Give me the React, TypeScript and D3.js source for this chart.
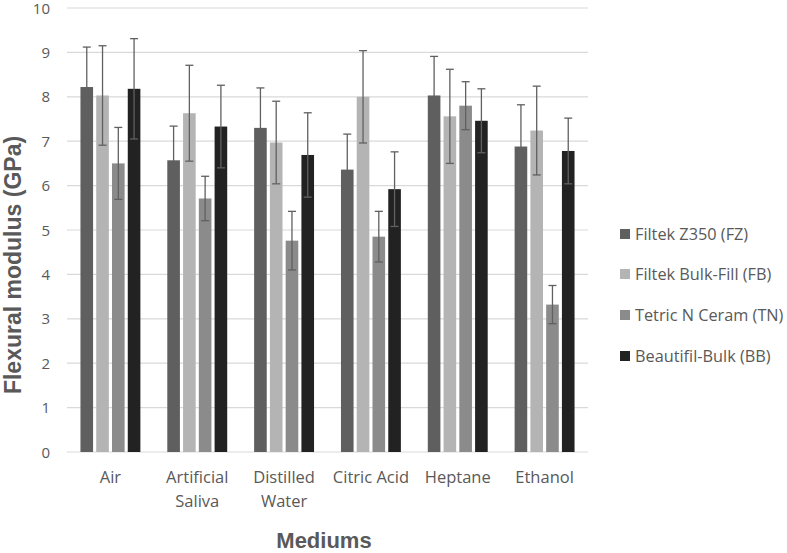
import React, { useRef, useEffect } from 'react';
import * as d3 from 'd3';

const categories = ['Air', 'Artificial Saliva', 'Distilled Water', 'Citric Acid', 'Heptane', 'Ethanol'];
const seriesNames = ['Filtek Z350 (FZ)', 'Filtek Bulk-Fill (FB)', 'Tetric N Ceram (TN)', 'Beautifil-Bulk (BB)'];
const seriesColors = ['#5f5f5f', '#b4b4b4', '#8b8b8b', '#222222'];

// mean values per series, in category order
const fzValues = [8.22, 6.57, 7.30, 6.36, 8.03, 6.88];
const fbValues = [8.03, 7.63, 6.97, 8.00, 7.56, 7.24];
const tnValues = [6.50, 5.71, 4.76, 4.85, 7.80, 3.32];
const bbValues = [8.18, 7.33, 6.69, 5.92, 7.46, 6.78];

// standard deviations
const fzErrors = [0.90, 0.77, 0.90, 0.80, 0.88, 0.94];
const fbErrors = [1.12, 1.08, 0.93, 1.04, 1.06, 1.00];
const tnErrors = [0.81, 0.50, 0.66, 0.57, 0.54, 0.43];
const bbErrors = [1.13, 0.93, 0.95, 0.84, 0.72, 0.74];

const yTicks = [0, 1, 2, 3, 4, 5, 6, 7, 8, 9, 10];

const App: React.FC = () => {
  const svgRef = useRef<SVGSVGElement>(null);
  const width = 787;
  const height = 553;

  useEffect(() => {
    if (!svgRef.current) return;
    const svg = d3.select(svgRef.current);
    svg.selectAll('*').remove();

    const left = 67, right = 588, top = 8, bottom = 452;
    const font = 'Open Sans, sans-serif';
    const boldFont = 'Liberation Sans, Arial, sans-serif';

    const values = [fzValues, fbValues, tnValues, bbValues];
    const errors = [fzErrors, fbErrors, tnErrors, bbErrors];

    const x0 = d3.scaleBand<string>()
      .domain(categories)
      .range([left, right])
      .paddingInner(0.31)
      .paddingOuter(0.155);

    const x1 = d3.scaleBand<string>()
      .domain(seriesNames)
      .range([0, x0.bandwidth()])
      .paddingInner(0.2);

    const y = d3.scaleLinear().domain([0, 10]).range([bottom, top]);

    // Grid lines + y tick labels
    yTicks.forEach(t => {
      svg.append('line')
        .attr('x1', left)
        .attr('x2', right)
        .attr('y1', y(t))
        .attr('y2', y(t))
        .attr('stroke', '#d9d9d9')
        .attr('stroke-width', 1.2);
      svg.append('text')
        .attr('x', 50)
        .attr('y', y(t) + 5.5)
        .attr('text-anchor', 'end')
        .attr('font-family', font)
        .attr('font-size', '15px')
        .attr('fill', '#595959')
        .text(t);
    });

    // Bars
    seriesNames.forEach((name, si) => {
      categories.forEach((cat, ci) => {
        const v = values[si][ci];
        const bx = (x0(cat) ?? 0) + (x1(name) ?? 0);
        svg.append('rect')
          .attr('x', bx)
          .attr('y', y(v))
          .attr('width', x1.bandwidth())
          .attr('height', y(0) - y(v))
          .attr('fill', seriesColors[si]);
      });
    });

    // Error bars
    seriesNames.forEach((name, si) => {
      categories.forEach((cat, ci) => {
        const v = values[si][ci];
        const e = errors[si][ci];
        const cx = (x0(cat) ?? 0) + (x1(name) ?? 0) + x1.bandwidth() / 2;
        const g = svg.append('g')
          .attr('stroke', '#606060')
          .attr('stroke-width', 1.3);
        g.append('line')
          .attr('x1', cx).attr('x2', cx)
          .attr('y1', y(v + e)).attr('y2', y(v - e));
        [v + e, v - e].forEach(yy => {
          g.append('line')
            .attr('x1', cx - 4).attr('x2', cx + 4)
            .attr('y1', y(yy)).attr('y2', y(yy));
        });
      });
    });

    // Category labels
    categories.forEach(cat => {
      const cx = (x0(cat) ?? 0) + x0.bandwidth() / 2;
      const words = cat === 'Citric Acid' ? [cat] : cat.split(' ');
      words.forEach((wd, i) => {
        svg.append('text')
          .attr('x', cx)
          .attr('y', 483 + i * 24)
          .attr('text-anchor', 'middle')
          .attr('font-family', font)
          .attr('font-size', '16.5px')
          .attr('fill', '#595959')
          .text(wd);
      });
    });

    // Axis titles
    svg.append('text')
      .attr('transform', 'rotate(-90)')
      .attr('x', -265)
      .attr('y', 21)
      .attr('text-anchor', 'middle')
      .attr('font-family', boldFont)
      .attr('font-weight', 700)
      .attr('font-size', '23px')
      .attr('fill', '#595959')
      .text('Flexural modulus (GPa)');

    svg.append('text')
      .attr('x', 324)
      .attr('y', 548)
      .attr('text-anchor', 'middle')
      .attr('font-family', boldFont)
      .attr('font-weight', 700)
      .attr('font-size', '22px')
      .attr('fill', '#595959')
      .text('Mediums');

    // Legend
    const legendY = [234, 274, 315, 356];
    seriesNames.forEach((name, i) => {
      svg.append('rect')
        .attr('x', 620)
        .attr('y', legendY[i] - 5)
        .attr('width', 10)
        .attr('height', 10)
        .attr('fill', seriesColors[i]);
      svg.append('text')
        .attr('x', 635)
        .attr('y', legendY[i] + 6)
        .attr('font-family', font)
        .attr('font-size', '16.3px')
        .attr('fill', '#595959')
        .text(name);
    });
  }, []);

  return (
    <svg
      ref={svgRef}
      width={width}
      height={height}
      style={{ position: 'absolute', left: 0, top: 0, background: '#fff' }}
    />
  );
};

export default App;
